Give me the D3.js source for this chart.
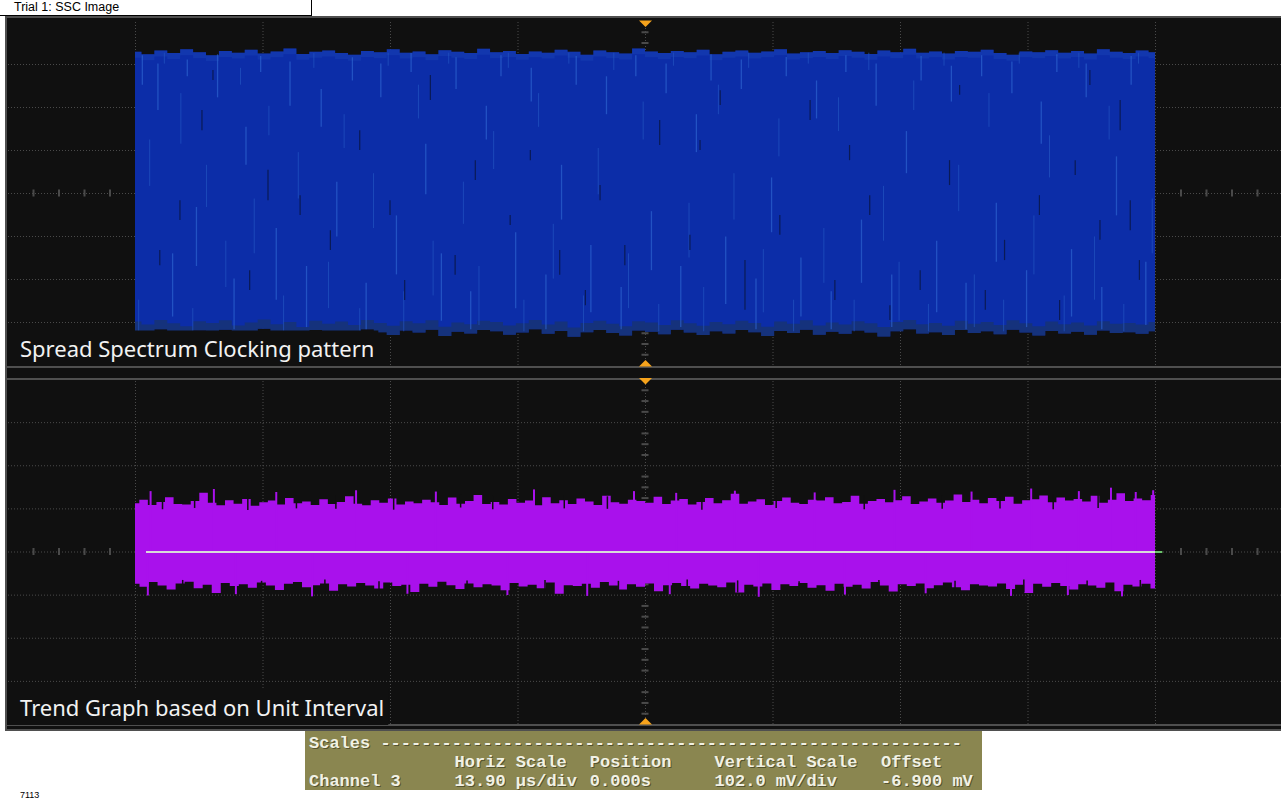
<!DOCTYPE html>
<html>
<head>
<meta charset="utf-8">
<script src="https://cdn.jsdelivr.net/npm/d3@7"></script>
<style>
  html, body { margin: 0; padding: 0; background: #ffffff; }
  svg { display: block; }
</style>
</head>
<body>
<svg id="scope" width="1281" height="799"></svg>
<script>
// ---------------- Acquisition settings ----------------
// Horizontal: 13.90 µs/div, 10 divisions, position 0 → time axis in µs
const timeDivs = [-69.5, -55.6, -41.7, -27.8, -13.9, 0, 13.9, 27.8, 41.7, 55.6, 69.5];
// Vertical: 102.0 mV/div, offset -6.900 mV, 8 divisions → amplitude in mV
const voltDivs = [-414.9, -312.9, -210.9, -108.9, -6.9, 95.1, 197.1, 299.1, 401.1];
// Unit-interval trend: 10 ps/div, 8 divisions
const trendDivs = [-40, -30, -20, -10, 0, 10, 20, 30, 40];
// Record span shown on screen (µs)
const captureWindow = [-55.6, 55.6];

// ---------------- Spread spectrum clock: envelope (mV) ----------------
const sscUpper = [328, 322, 331, 325, 334, 327, 320, 330, 326, 333, 324, 329, 336, 323, 328, 331,
  325, 321, 330, 327, 334, 326, 329, 322, 332, 328, 325, 335, 327, 330, 323, 329, 326, 333, 328,
  321, 331, 327, 324, 336, 329, 325, 330, 327, 333, 322, 328, 331, 326, 329, 334, 324, 327, 330,
  325, 332, 328, 323, 331, 327, 335, 326, 329, 324, 330, 328, 333, 325, 321, 329, 327, 332, 326,
  330, 324, 334, 328, 325, 331, 327];
const sscLower = [-334, -341, -330, -338, -345, -333, -337, -331, -343, -336, -329, -340, -335,
  -347, -332, -339, -334, -342, -330, -337, -344, -333, -338, -331, -346, -336, -340, -332, -335,
  -343, -338, -330, -341, -334, -348, -337, -332, -339, -345, -333, -336, -342, -331, -338, -344,
  -335, -340, -332, -337, -346, -334, -339, -331, -343, -336, -341, -333, -338, -347, -335, -330,
  -340, -337, -344, -332, -339, -335, -342, -331, -338, -345, -334, -340, -336, -343, -333, -339,
  -337, -341, -335];

// Bright persistence traces: [time µs, upper mV, lower mV]
const sscBrightTraces = [
  [-54.8, 320, 250], [-53.1, 300, 190], [-51.5, -150, -300], [-49.9, 310, 270], [-48.9, -40, -180],
  [-46.6, 322, 220], [-44.8, -210, -330], [-43.5, 150, 60], [-41.9, 318, 280], [-40.2, -90, -260],
  [-38.7, 305, 200], [-36.9, -180, -325], [-35.3, 240, 150], [-33.6, 20, -110], [-31.9, 315, 260],
  [-30.4, -220, -330], [-28.8, 300, 220], [-27.1, -60, -200], [-25.5, 325, 280], [-23.9, 110, -10],
  [-22.2, -150, -310], [-20.6, 315, 240], [-19.0, -240, -330], [-17.3, 200, 120], [-15.7, 320, 270],
  [-14.1, -100, -280], [-12.4, 290, 210], [-10.8, -200, -330], [-9.1, 60, -70], [-7.5, 318, 250],
  [-5.9, -130, -290], [-4.2, 270, 180], [-2.6, -230, -330], [-1.0, 320, 270], [0.7, -50, -190],
  [2.3, 300, 230], [3.9, -180, -325], [5.6, 180, 90], [7.2, 322, 260], [8.8, -110, -270],
  [10.5, 310, 240], [12.1, -210, -330], [13.8, 30, -100], [15.4, 316, 270], [17.0, -160, -300],
  [18.7, 260, 170], [20.3, -240, -330], [21.9, 320, 280], [23.6, -70, -220], [25.2, 300, 200],
  [26.9, -200, -325], [28.5, 140, 40], [30.1, 318, 260], [31.8, -120, -290], [33.4, 295, 210],
  [35.0, -220, -330], [36.7, 320, 270], [38.3, -30, -170], [40.0, 305, 230], [41.6, -190, -325],
  [43.2, 210, 110], [44.9, 322, 280], [46.5, -140, -300], [48.1, 300, 220], [49.8, -230, -330],
  [51.4, 80, -60], [53.0, 318, 250], [54.6, -170, -320]
];
// Fainter persistence traces: [time µs, upper mV, lower mV]
const sscFaintTraces = [
  [-55.2, -260, -335], [-54.0, 120, 10], [-52.4, 326, 300], [-50.6, 230, 110], [-49.3, -280, -335],
  [-47.8, 60, -40], [-45.7, -120, -230], [-44.1, 290, 250], [-42.6, -20, -150], [-41.0, 200, 130],
  [-39.4, -250, -335], [-37.8, 90, -20], [-36.1, 325, 290], [-34.5, -170, -280], [-32.8, 180, 100],
  [-31.1, -280, -335], [-29.6, 40, -90], [-28.0, 326, 295], [-26.3, -240, -335], [-24.7, 250, 170],
  [-23.1, -120, -250], [-21.4, 326, 300], [-19.8, 20, -80], [-18.1, -180, -320], [-16.5, 140, 50],
  [-14.9, 326, 290], [-13.2, -260, -335], [-11.6, 230, 150], [-10.0, -80, -210], [-8.3, 326, 300],
  [-6.7, -250, -335], [-5.1, 100, -10], [-3.4, 326, 285], [-1.8, -150, -280], [-0.2, 210, 120],
  [1.5, -270, -335], [3.1, 326, 295], [4.8, -30, -160], [6.4, -230, -335], [8.0, 250, 180],
  [9.7, 40, -70], [11.3, 326, 290], [12.9, -140, -290], [14.6, 170, 80], [16.2, -260, -335],
  [17.8, 326, 300], [19.5, -90, -220], [21.1, 220, 140], [22.8, -260, -335], [24.4, 326, 285],
  [26.0, 10, -120], [27.7, -170, -310], [29.3, 260, 190], [30.9, -270, -335], [32.6, 326, 295],
  [34.2, 60, -50], [35.9, -200, -325], [37.5, 230, 150], [39.1, -260, -335], [40.8, 326, 300],
  [42.4, -60, -200], [44.1, 130, 30], [45.7, -250, -335], [47.3, 326, 290], [49.0, -110, -260],
  [50.6, 200, 120], [52.2, -270, -335], [53.8, 326, 300], [55.3, -20, -150]
];
// Sparse dropouts: [time µs, upper mV, lower mV]
const sscDropouts = [
  [-48.3, 190, 142], [-47.1, 285, 261], [-43.1, -190, -237], [-41.1, 48, -24], [-37.6, -12, -59],
  [-31.1, 142, 95], [-26.2, -213, -261], [-23.4, 273, 214], [-18.5, 71, 24], [-12.5, 95, 71],
  [-9.3, -142, -201], [-4.9, 12, -24], [-2.2, -130, -178], [1.6, 166, 107], [4.9, -106, -142],
  [6.0, 119, 95], [10.9, -166, -284], [14.7, -59, -106], [18.0, 214, 166], [20.7, -213, -261],
  [24.5, -12, -59], [30.0, -190, -237], [33.2, 71, 12], [37.1, -237, -284], [39.2, -118, -166],
  [43.0, -12, -59], [46.9, 71, 36], [49.6, -71, -118], [51.8, 214, 142], [53.9, -166, -213],
  [-52.9, -142, -178], [-50.7, -24, -71], [-34.3, -95, -142], [-27.8, -24, -59], [-20.7, -154, -201],
  [-14.7, -59, -83], [-6.5, -237, -273], [8.2, 237, 202], [22.3, 107, 71], [26.7, -273, -308],
  [34.3, 249, 226], [45.2, -261, -308], [48.5, 285, 249], [52.9, -24, -95]
];

// ---------------- Unit interval trend: envelope (ps) ----------------
const uiUpper = [11.2, 12.0, 10.8, 11.5, 12.6, 11.0, 10.9, 11.7, 13.6, 11.3, 10.7, 11.9, 11.1, 12.2,
  10.6, 11.4, 11.8, 10.9, 12.4, 11.2, 11.6, 10.8, 12.1, 11.0, 11.5, 12.8, 11.1, 10.7, 11.9, 11.3,
  12.3, 10.9, 11.6, 11.2, 12.0, 11.4, 10.8, 12.5, 11.1, 11.7, 13.1, 11.0, 11.5, 10.9, 12.2, 11.3,
  11.8, 10.7, 12.6, 11.2, 11.9, 11.0, 12.3, 11.6, 10.8, 12.9, 11.4, 11.1, 12.0, 11.7, 11.3, 12.7,
  11.0, 11.8, 12.2, 10.9, 11.5, 12.4, 11.2, 11.9, 13.4, 11.1, 11.6, 12.1, 10.8, 11.7, 12.5, 11.3,
  11.0, 12.0, 11.8, 12.6, 11.2, 11.5, 12.9, 11.1, 11.7, 12.2, 11.4, 11.9, 12.8, 11.0, 11.6, 12.3,
  11.3, 11.8, 13.2, 11.5, 12.0, 11.2, 12.4, 11.7, 12.7, 11.1, 11.9, 12.1, 13.0, 11.4, 12.5, 11.8,
  12.2, 11.6, 12.9, 11.3, 12.0, 13.5, 11.7, 12.3, 11.9, 13.1];
const uiLower = [-7.5, -8.2, -7.1, -7.9, -8.8, -7.4, -7.0, -8.5, -7.7, -9.6, -7.3, -8.0, -7.6, -8.4,
  -7.2, -7.9, -8.9, -7.5, -7.1, -8.3, -7.8, -7.4, -9.1, -7.6, -8.1, -7.3, -7.9, -8.6, -7.2, -8.0,
  -7.7, -9.4, -7.5, -8.2, -7.0, -7.8, -8.7, -7.4, -8.3, -7.6, -7.9, -9.0, -7.3, -8.1, -7.7, -8.5,
  -7.2, -9.8, -7.8, -8.0, -7.5, -8.4, -7.1, -7.9, -8.8, -7.6, -8.2, -7.4, -9.2, -7.8, -7.3, -8.0,
  -8.6, -7.5, -7.9, -8.3, -7.2, -9.5, -7.7, -8.1, -7.4, -8.9, -7.6, -8.0, -7.3, -8.4, -7.8, -9.1,
  -7.5, -8.2, -7.7, -8.6, -7.1, -7.9, -9.3, -7.6, -8.0, -7.4, -8.5, -7.8, -7.2, -8.3, -9.0, -7.6,
  -7.9, -8.1, -7.4, -8.7, -7.7, -9.6, -7.5, -8.2, -7.3, -8.0, -8.8, -7.6, -7.9, -8.4, -7.2, -9.2,
  -7.7, -8.1, -7.5, -8.6];
// Isolated UI excursions beyond the envelope: [time µs, ps]
const uiPeaks = [
  [-53.9, 14.0], [-47.0, 14.5], [-40.2, 13.8], [-31.5, 14.2], [-22.8, 13.9], [-12.1, 14.4],
  [-1.2, 14.0], [3.4, 13.6], [9.8, 14.1], [18.5, 13.7], [27.2, 14.3], [35.6, 13.9], [42.1, 14.6],
  [47.3, 14.0], [50.8, 14.8], [53.5, 13.8], [55.4, 14.2],
  [-54.2, -10.2], [-44.6, -9.9], [-36.3, -10.4], [-25.9, -9.8], [-15.0, -10.1], [-6.3, -10.3],
  [2.7, -9.9], [12.4, -10.5], [21.8, -10.0], [30.6, -9.7], [39.9, -10.3], [46.1, -10.1], [52.0, -10.4]
];
// Short gaps in the envelope edges: [time µs, outer ps, inner ps]
const uiGaps = [
  [-52.6, 13.0, 9.8], [-49.1, 12.8, 10.1], [-43.3, 13.2, 9.6], [-38.0, 12.9, 10.0], [-33.7, 13.1, 9.9],
  [-27.4, 12.7, 9.7], [-20.1, 13.3, 10.2], [-16.6, 12.9, 9.8], [-8.8, 13.0, 10.0], [-4.1, 12.8, 9.9],
  [6.2, 13.2, 9.7], [14.3, 12.9, 10.1], [23.9, 13.1, 9.8], [32.4, 13.0, 9.9], [38.7, 12.8, 10.0],
  [44.5, 13.3, 9.8], [49.4, 13.1, 10.1],
  [-50.4, -9.5, -6.6], [-41.8, -9.3, -6.8], [-34.9, -9.6, -6.5], [-29.0, -9.2, -6.9], [-19.4, -9.5, -6.7],
  [-10.9, -9.4, -6.6], [-2.9, -9.6, -6.8], [4.6, -9.3, -6.5], [10.1, -9.5, -6.7], [16.8, -9.4, -6.9],
  [25.5, -9.6, -6.6], [33.8, -9.3, -6.8], [41.3, -9.5, -6.5], [48.2, -9.4, -6.7], [54.0, -9.6, -6.6]
];
// Mean of the trend (ps) over its averaging span (µs)
const uiMeanValue = 0;
const uiMeanSpan = [-54.4, 55.6];
const uiMeanLatest = [55.6, 56.4];

// ---------------- Text ----------------
const windowTitle = "Trial 1: SSC Image";
const sscLabel = "Spread Spectrum Clocking pattern";
const trendLabel = "Trend Graph based on Unit Interval";
const scalesTitle = "Scales " + "-".repeat(57);
const scaleHeadings = ["Horiz Scale", "Position", "Vertical Scale", "Offset"];
const channelName = "Channel 3";
const scaleValues = ["13.90 µs/div", "0.000s", "102.0 mV/div", "-6.900 mV"];
const footerNote = "7113";

// ---------------- Drawing ----------------
const svg = d3.select("#scope");
const screen = { left: 5, top: 16, right: 1281, bottom: 731 };
const panels = [
  { top: 21, bottom: 365 },
  { top: 379, bottom: 724 }
];

const x = d3.scaleLinear().domain([timeDivs[0], timeDivs[timeDivs.length - 1]]).range([7.5, 1282.5]);
const yV = d3.scaleLinear().domain([voltDivs[0], voltDivs[voltDivs.length - 1]])
  .range([panels[0].bottom, panels[0].top]);
const yT = d3.scaleLinear().domain([trendDivs[0], trendDivs[trendDivs.length - 1]])
  .range([panels[1].bottom, panels[1].top]);

// Window title strip
svg.append("rect").attr("x", -1).attr("y", -1).attr("width", 312.5).attr("height", 16.5)
  .attr("fill", "#ffffff").attr("stroke", "#000000").attr("stroke-width", 1);
svg.append("text").attr("x", 14).attr("y", 11)
  .attr("font-family", "Liberation Sans, Arial, sans-serif").attr("font-size", 12.5)
  .attr("fill", "#000000").text(windowTitle);

// Screen background
svg.append("rect").attr("x", screen.left).attr("y", screen.top)
  .attr("width", screen.right - screen.left).attr("height", screen.bottom - screen.top)
  .attr("fill", "#101010");
// Bezel lines
const bezel = svg.append("g").attr("stroke", "#4f4f4f").attr("stroke-width", 2);
bezel.append("line").attr("x1", 5).attr("x2", 1281).attr("y1", 17).attr("y2", 17);
bezel.append("line").attr("x1", 6).attr("x2", 6).attr("y1", 16).attr("y2", 731);
bezel.append("line").attr("x1", 6).attr("x2", 1281).attr("y1", 367).attr("y2", 367);
bezel.append("line").attr("x1", 6).attr("x2", 1281).attr("y1", 379).attr("y2", 379);
bezel.append("line").attr("x1", 6).attr("x2", 1281).attr("y1", 725).attr("y2", 725);
bezel.append("line").attr("x1", 5).attr("x2", 1281).attr("y1", 730).attr("y2", 730);

const gridColor = "#4a4a4a";

function drawGraticule(g, y, divs, minorPerDiv, panel) {
  const h = panel.bottom - panel.top;
  // vertical divisions
  const gv = g.append("g").attr("transform", `translate(0,${panel.bottom})`)
    .call(d3.axisBottom(x).tickValues(timeDivs.slice(1, -1)).tickSize(h).tickSizeOuter(0).tickFormat(""));
  gv.select(".domain").remove();
  gv.selectAll(".tick line").attr("y2", -h).attr("stroke", gridColor).attr("stroke-dasharray", "1,2");
  // horizontal divisions
  const gh = g.append("g").attr("transform", "translate(8,0)")
    .call(d3.axisRight(y).tickValues(divs.slice(1, -1)).tickSize(1281 - 8).tickFormat(""));
  gh.select(".domain").remove();
  gh.selectAll(".tick line").attr("stroke", gridColor).attr("stroke-dasharray", "1,2");

  // minor ticks on centre horizontal axis (5 per division)
  const tStep = (timeDivs[1] - timeDivs[0]) / 5;
  const minorT = d3.range(51).filter(i => i % 5 !== 0).map(i => timeDivs[0] + i * tStep);
  const yc = y(divs[4]);
  const gmx = g.append("g").attr("transform", `translate(0,${yc})`)
    .call(d3.axisBottom(x).tickValues(minorT).tickSize(4).tickFormat(""));
  gmx.select(".domain").remove();
  gmx.selectAll(".tick line").attr("y1", -3.5).attr("y2", 3.5)
    .attr("stroke", gridColor).attr("stroke-width", 2);

  // minor ticks on centre vertical axis
  const vStep = (divs[1] - divs[0]) / minorPerDiv;
  const nV = (divs.length - 1) * minorPerDiv;
  const minorV = d3.range(nV + 1).filter(i => i % minorPerDiv !== 0).map(i => divs[0] + i * vStep);
  const gmy = g.append("g").attr("transform", `translate(${x(0)},0)`)
    .call(d3.axisRight(y).tickValues(minorV).tickSize(4).tickFormat(""));
  gmy.select(".domain").remove();
  gmy.selectAll(".tick line").attr("x1", -3.5).attr("x2", 3.5)
    .attr("stroke", gridColor).attr("stroke-width", 2);
}

const g1 = svg.append("g");
const g2 = svg.append("g");
drawGraticule(g1, yV, voltDivs, 4, panels[0]);
drawGraticule(g2, yT, trendDivs, 4, panels[1]);

// ---------- Spread spectrum clock waveform ----------
const sscIdx = d3.scaleLinear().domain([0, sscUpper.length - 1]).range(captureWindow);
const sscIdxL = d3.scaleLinear().domain([0, sscLower.length - 1]).range(captureWindow);
const midV = voltDivs[4];

g1.append("path").datum(sscUpper)
  .attr("fill", "#0c2da8")
  .attr("d", d3.area().curve(d3.curveStep)
    .x((d, i) => x(sscIdx(i))).y0(yV(midV)).y1(d => yV(d)));
g1.append("path").datum(sscLower)
  .attr("fill", "#0c2da8")
  .attr("d", d3.area().curve(d3.curveStep)
    .x((d, i) => x(sscIdxL(i))).y0(yV(midV) - 1).y1(d => yV(d)));
// dim tail along the lower edge
g1.append("path").datum(sscLower)
  .attr("fill", "#19356a").attr("opacity", 0.7)
  .attr("d", d3.area().curve(d3.curveStep)
    .x((d, i) => x(sscIdxL(i))).y0(d => yV(d + 22)).y1(d => yV(d)));
// brighter rim along the upper envelope
g1.append("path").datum(sscUpper)
  .attr("fill", "#1a44b6").attr("opacity", 0.45)
  .attr("d", d3.area().curve(d3.curveStep)
    .x((d, i) => x(sscIdx(i))).y0(d => yV(d - 14)).y1(d => yV(d)));

g1.append("g").selectAll("line").data(sscFaintTraces).join("line")
  .attr("x1", d => x(d[0])).attr("x2", d => x(d[0]))
  .attr("y1", d => yV(d[1])).attr("y2", d => yV(d[2]))
  .attr("stroke", "#2355c2").attr("stroke-width", 1).attr("opacity", 0.7);
g1.append("g").selectAll("line").data(sscBrightTraces).join("line")
  .attr("x1", d => x(d[0])).attr("x2", d => x(d[0]))
  .attr("y1", d => yV(d[1])).attr("y2", d => yV(d[2]))
  .attr("stroke", "#2c62cf").attr("stroke-width", 1.3).attr("opacity", 0.7);
g1.append("g").selectAll("line").data(sscDropouts).join("line")
  .attr("x1", d => x(d[0])).attr("x2", d => x(d[0]))
  .attr("y1", d => yV(d[1])).attr("y2", d => yV(d[2]))
  .attr("stroke", "#0a1a55").attr("stroke-width", 1.2);

// ---------- Unit interval trend ----------
const uiIdxU = d3.scaleLinear().domain([0, uiUpper.length - 1]).range(captureWindow);
const uiIdxL = d3.scaleLinear().domain([0, uiLower.length - 1]).range(captureWindow);
const uiColor = "#a911ec";
g2.append("path").datum(uiUpper)
  .attr("fill", uiColor)
  .attr("d", d3.area().curve(d3.curveStep)
    .x((d, i) => x(uiIdxU(i))).y0(yT(uiMeanValue) + 1).y1(d => yT(d)));
g2.append("path").datum(uiLower)
  .attr("fill", uiColor)
  .attr("d", d3.area().curve(d3.curveStep)
    .x((d, i) => x(uiIdxL(i))).y0(yT(uiMeanValue) - 1).y1(d => yT(d)));
g2.append("g").selectAll("line").data(uiPeaks).join("line")
  .attr("x1", d => x(d[0])).attr("x2", d => x(d[0]))
  .attr("y1", yT(uiMeanValue)).attr("y2", d => yT(d[1]))
  .attr("stroke", uiColor).attr("stroke-width", 2);
g2.append("g").selectAll("line").data(uiGaps).join("line")
  .attr("x1", d => x(d[0])).attr("x2", d => x(d[0]))
  .attr("y1", d => yT(d[1])).attr("y2", d => yT(d[2]))
  .attr("stroke", "#101010").attr("stroke-width", 1.5);

const meanLine = d3.line().x(d => x(d)).y(() => yT(uiMeanValue) + 0.5);
g2.append("path").attr("d", meanLine(uiMeanSpan))
  .attr("stroke", "#d9d9d9").attr("stroke-width", 2).attr("fill", "none");
g2.append("path").attr("d", meanLine(uiMeanLatest))
  .attr("stroke", "#6cc46c").attr("stroke-width", 2).attr("fill", "none");

// ---------- Panel captions ----------
function caption(g, text, panel) {
  const base = panel.bottom - 8.5;
  const t = g.append("text").attr("x", 20).attr("y", base)
    .attr("font-family", "Noto Sans, Open Sans, sans-serif").attr("font-size", 22)
    .attr("fill", "#f2f2f2").text(text);
  const bb = t.node().getBBox();
  g.insert("rect", () => t.node())
    .attr("x", 7).attr("y", base - 26)
    .attr("width", bb.x + bb.width + 4 - 7).attr("height", panel.bottom + 1 - (base - 26))
    .attr("fill", "#101010");
}
caption(g1, sscLabel, panels[0]);
caption(g2, trendLabel, panels[1]);

// ---------- Trigger / reference markers ----------
const marker = (cx, cy, dir) => {
  const w = 6.5, h = 6.5;
  return `M${cx - w},${cy} L${cx + w},${cy} L${cx},${cy + dir * h} Z`;
};
const mk = svg.append("g").attr("fill", "#f6a31c");
mk.append("path").attr("d", marker(x(0) + 0.5, panels[0].top - 0.5, 1));
mk.append("path").attr("d", marker(x(0) + 0.5, panels[0].bottom + 1.5, -1));
mk.append("path").attr("d", marker(x(0) + 0.5, panels[1].top - 1, 1));
mk.append("path").attr("d", marker(x(0) + 0.5, panels[1].bottom + 0.5, -1));

// ---------- Scales readout ----------
const box = { x: 305, y: 731, w: 677, h: 59 };
svg.append("clipPath").attr("id", "scalesClip")
  .append("rect").attr("x", box.x).attr("y", box.y).attr("width", box.w).attr("height", box.h);
const sg = svg.append("g").attr("clip-path", "url(#scalesClip)");
sg.append("rect").attr("x", box.x).attr("y", box.y).attr("width", box.w).attr("height", box.h)
  .attr("fill", "#8a8650");
const charW = 10.4;
const col0 = 309;
const cols = [14, 27, 39, 55];
function mono(text, col, base) {
  const grp = sg.append("g").attr("font-family", "Liberation Mono, Courier New, monospace")
    .attr("font-size", 17).attr("font-weight", "bold").style("white-space", "pre");
  grp.append("text").attr("x", col0 + col * charW + 1).attr("y", base + 1)
    .attr("fill", "#55532e").text(text);
  grp.append("text").attr("x", col0 + col * charW).attr("y", base)
    .attr("fill", "#f1f1e4").text(text);
}
mono(scalesTitle, 0, 748);
scaleHeadings.forEach((h, i) => mono(h, cols[i], 767));
mono(channelName, 0, 786);
scaleValues.forEach((v, i) => mono(v, cols[i], 786));

// footer note
svg.append("text").attr("x", 20).attr("y", 798)
  .attr("font-family", "Liberation Sans, Arial, sans-serif").attr("font-size", 9)
  .attr("fill", "#000000").text(footerNote);
</script>
</body>
</html>
